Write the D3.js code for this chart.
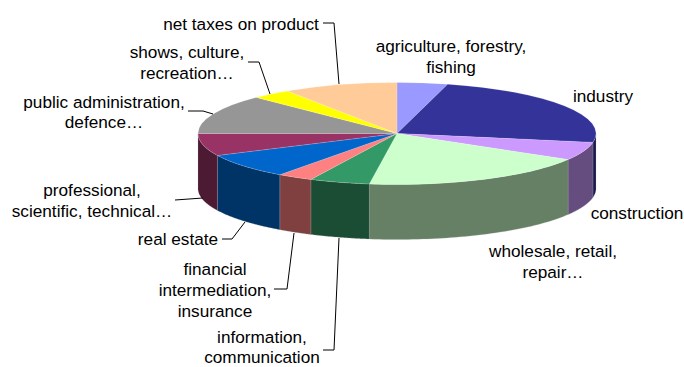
<!DOCTYPE html>
<html>
<head>
<meta charset="utf-8">
<script src="https://cdn.jsdelivr.net/npm/d3@7/dist/d3.min.js"></script>
<style>
  html, body { margin: 0; padding: 0; background: #fff; }
  svg { display: block; }
  text { font-family: "Liberation Sans", Arial, sans-serif; font-size: 17.2px; fill: #000; }
</style>
</head>
<body>
<svg id="chart" width="684" height="367"></svg>
<script>
// Sectors, clockwise from twelve o'clock
const categories = [
  "agriculture, forestry, fishing", "industry", "construction",
  "wholesale, retail, repair…", "information, communication",
  "financial intermediation, insurance", "real estate",
  "professional, scientific, technical…", "public administration, defence…",
  "shows, culture, recreation…", "net taxes on product"
];
const shares = [4.1, 23.7, 5.75, 18.7, 4.9, 2.9, 7.9, 7.1, 12.5, 3.2, 9.3];
const topColors = ["#9999ff", "#333399", "#cc99ff", "#ccffcc", "#339966", "#ff8080",
                   "#0066cc", "#993366", "#969696", "#ffff00", "#ffcc99"];
const sideColors = ["#4d4d80", "#1a1a4d", "#664d80", "#668066", "#1a4d33", "#804040",
                    "#003366", "#4d1a33", "#4b4b4b", "#808000", "#806650"];

// Label placement: wrapped lines, centre x, baseline ys
const labelLines = [
  ["agriculture, forestry,", "fishing"], ["industry"], ["construction"],
  ["wholesale, retail,", "repair…"], ["information,", "communication"],
  ["financial", "intermediation,", "insurance"], ["real estate"],
  ["professional,", "scientific, technical…"], ["public administration,", "defence…"],
  ["shows, culture,", "recreation…"], ["net taxes on product"]
];
const labelX = [451, 603, 637, 553, 262, 215, 178, 92, 104, 187, 241];
const labelY = [[52, 73], [102], [219], [257, 278], [343, 363], [275, 296, 317], [245],
                [196, 217], [108, 128], [58, 79], [30]];
const leaders = [
  null, null, null, null,
  [[323, 350], [334, 350], [339, 238]],
  [[274, 289], [287, 289], [294, 233]],
  [[222, 239], [232, 239], [245, 222]],
  [[175, 200], [203, 198]],
  [[188, 111], [203, 111], [213, 114]],
  [[248, 62], [259, 62], [270, 94]],
  [[323, 23], [334, 23], [339, 84]]
];

const cx = 397, cy = 133.5, rx = 199, ry = 51, depth = 55;
const svg = d3.select("#chart");

const pie = d3.pie().sort(null).value(d => d);
const slices = pie(shares);

// Ellipse projection of a pie angle (0 = up, clockwise)
const px = a => cx + rx * Math.sin(a);
const py = a => cy - ry * Math.cos(a);

// Front wall: the part of each slice lying between 90 and 270 degrees
const wallPath = (a0, a1) => {
  const angles = d3.range(0, 49).map(i => a0 + (a1 - a0) * i / 48);
  const upper = angles.map(a => [px(a), py(a)]);
  const lower = angles.slice().reverse().map(a => [px(a), py(a) + depth]);
  return d3.line()(upper.concat(lower)) + "Z";
};

const walls = svg.append("g");
slices.forEach((s, i) => {
  const a0 = Math.max(s.startAngle, Math.PI / 2);
  const a1 = Math.min(s.endAngle, Math.PI * 1.5);
  if (a1 <= a0) return;
  walls.append("path")
    .attr("d", wallPath(a0, a1))
    .attr("fill", sideColors[i])
    .attr("stroke", "#a9a9a9")
    .attr("stroke-opacity", 0.45)
    .attr("stroke-width", 0.5);
});

// Top face: circular arcs flattened into an ellipse
const arc = d3.arc().innerRadius(0).outerRadius(rx);
svg.append("g")
  .attr("transform", `translate(${cx},${cy}) scale(1,${ry / rx})`)
  .selectAll("path")
  .data(slices)
  .join("path")
  .attr("d", arc)
  .attr("fill", (d, i) => topColors[i])
  .attr("stroke", "#fff")
  .attr("stroke-opacity", 0.3)
  .attr("stroke-width", 0.5)
  .attr("vector-effect", "non-scaling-stroke");

// Leader lines
svg.append("g")
  .selectAll("path")
  .data(leaders.filter(Boolean))
  .join("path")
  .attr("d", d3.line())
  .attr("fill", "none")
  .attr("stroke", "#000")
  .attr("stroke-width", 1);

// Category labels
const labels = svg.append("g").attr("text-anchor", "middle");
labelLines.forEach((lines, i) => {
  lines.forEach((line, j) => {
    labels.append("text")
      .attr("x", labelX[i])
      .attr("y", labelY[i][j])
      .text(line);
  });
});
</script>
</body>
</html>
